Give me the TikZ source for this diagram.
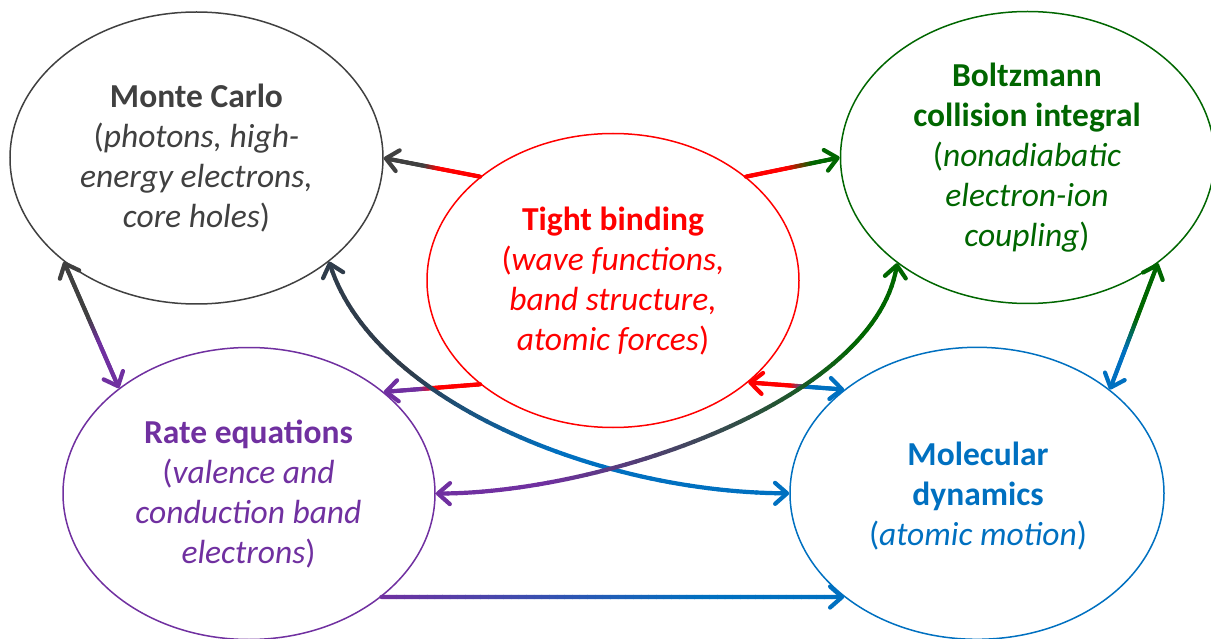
\documentclass[tikz,border=0pt]{standalone}
\usepackage{fontspec}
\setmainfont{Carlito}
\usetikzlibrary{arrows.meta,shapes.geometric,decorations.markings}
\definecolor{mcgray}{RGB}{64,64,64}
\definecolor{mcslate}{RGB}{47,60,75}
\definecolor{tbred}{RGB}{255,0,0}
\definecolor{bzgreen}{RGB}{0,102,0}
\definecolor{repurple}{RGB}{112,48,160}
\definecolor{mdblue}{RGB}{0,112,192}
\tikzset{
  ell/.style={ellipse, draw, line width=1.5pt, inner sep=0pt},
  lbl/.style={align=center, anchor=base, font=\fontsize{33.5}{40}\selectfont},
  seg/.style={line width=4.2pt, line cap=round},
  barb/.tip={Straight Barb[length=12pt,width=21pt,round]},
}
% #1 path, #2 start colour, #3 end colour, #4 #5 colour transition, #6 #7 trims (>0 = arrow tip)
\newcommand\gradconn[7]{%
  \foreach \k in {0,...,60}{%
    \pgfmathsetmacro\gpp{#6+(1-#6-#7)*\k/60}%
    \path #1 coordinate[pos=\gpp] (gc\k);}%
  \foreach \k [remember=\k as \kp (initially 0)] in {1,...,60}{%
    \pgfmathsetmacro\gtt{#6+(1-#6-#7)*(\k-0.5)/60}%
    \pgfmathsetmacro\gmix{100*min(1,max(0,(\gtt-#4)/(#5-#4)))}%
    \draw[seg, color=#3!\gmix!#2] (gc\kp) -- (gc\k);}%
  \ifdim#6pt>0pt
    \path[decoration={markings,mark=at position 0.0001 with {\arrowreversed[color=#2,line width=4.2pt]{barb}}},decorate] #1;%
  \fi
  \ifdim#7pt>0pt
    \path[decoration={markings,mark=at position 0.9999 with {\arrow[color=#3,line width=4.2pt]{barb}}},decorate] #1;%
  \fi
}
\begin{document}
\begin{tikzpicture}[x=1pt,y=-1pt]
\useasboundingbox (0,0) rectangle (1211,639);
% ellipses
\node[ell, draw=mcgray, minimum width=373pt, minimum height=292pt] (mc) at (196.5,158) {};
\node[ell, draw=tbred, minimum width=372pt, minimum height=294pt] (tb) at (613,280.5) {};
\node[ell, draw=bzgreen, minimum width=374pt, minimum height=292pt] (bz) at (1027.5,157.5) {};
\node[ell, draw=repurple, minimum width=372pt, minimum height=292pt] (re) at (249,493.5) {};
\node[ell, draw=mdblue, minimum width=374pt, minimum height=292pt] (md) at (977,493.3) {};
% straight connectors
\gradconn{(tb.142.1) -- (mc.0)}{tbred}{mcgray}{0.45}{0.6}{0}{0.05}
\gradconn{(tb.38.1) -- (bz.180)}{tbred}{bzgreen}{0.45}{0.72}{0}{0.05}
\gradconn{(tb.218.2) -- (re.37.5)}{tbred}{repurple}{0.5}{0.65}{0}{0.05}
\gradconn{(tb.-37.7) -- (md.142.0)}{tbred}{mdblue}{0.45}{0.62}{0.05}{0.05}
\gradconn{(mc.218.3) -- (re.141.5)}{mcgray}{repurple}{0.45}{0.65}{0.035}{0.035}
\gradconn{(bz.-39) -- (md.38.6)}{bzgreen}{mdblue}{0.45}{0.7}{0.035}{0.035}
\gradconn{(re.-38.2) -- (md.218.1)}{repurple}{mdblue}{0}{0.7}{0}{0.01}
% curved connectors
\gradconn{(mc.-38.6) .. controls (370,400) and (600,494) .. (md.180)}{mcslate}{mdblue}{0.3}{0.6}{0.008}{0.008}
\gradconn{(re.0) .. controls (600,495) and (880,400) .. (bz.219)}{repurple}{bzgreen}{0.2}{0.8}{0.008}{0.008}
% labels (anchor base = baseline of last line)
\node[lbl, text=mcgray] (mct) at (196.5,228) {\textbf{Monte Carlo}\\(\textit{photons, high-}\\\textit{energy electrons,}\\\textit{core holes})};
\node[lbl, text=tbred] (tbt) at (613,350) {\textbf{Tight binding}\\(\textit{wave functions,}\\\textit{band structure,}\\\textit{atomic forces})};
\node[lbl, text=bzgreen] (bzt) at (1027,247) {\textbf{Boltzmann}\\\textbf{collision integral}\\(\textit{nonadiabatic}\\\textit{electron-ion}\\\textit{coupling})};
\node[lbl, text=repurple] (ret) at (248.5,563) {\textbf{Rate equations}\\(\textit{valence and}\\\textit{conduction band}\\\textit{electrons})};
\node[lbl, text=mdblue] (mdt) at (978,545) {\textbf{Molecular}\\\textbf{dynamics}\\(\textit{atomic motion})};
\end{tikzpicture}
\end{document}
